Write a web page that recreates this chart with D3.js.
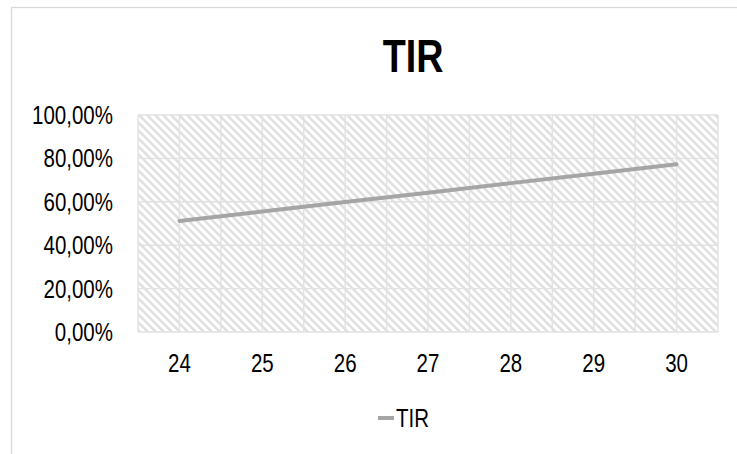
<!DOCTYPE html>
<html><head><meta charset="utf-8">
<script src="https://cdn.jsdelivr.net/npm/d3@7"></script>
<style>
html,body{margin:0;padding:0;background:#fff;overflow:hidden}
text{font-family:"Liberation Sans Narrow","Arial Narrow","Liberation Sans",Arial,sans-serif}
</style></head>
<body>
<svg id="chart" width="737" height="454"></svg>
<script>
const categories = ["24","25","26","27","28","29","30"];
const tirValues = [0.512, 0.555, 0.599, 0.642, 0.686, 0.729, 0.773];
const yTicks = [0, 0.2, 0.4, 0.6, 0.8, 1.0];
const seriesName = "TIR";
const titleText = "TIR";

const svg = d3.select("#chart");
const W = 737, H = 454;
const plot = {left:138, right:718, top:115, bottom:332};
const SX = 0.82; // narrow-font emulation

function label(parent, px, py, txt, opts) {
  const g = parent.append("g").attr("transform", `translate(${px},${py}) scale(${SX},1)`);
  const t = g.append("text").attr("x",0).attr("y",0)
    .attr("font-size", opts.size).attr("fill","#000")
    .attr("text-anchor", opts.anchor || "start")
    .text(txt);
  if (opts.bold) t.attr("font-weight","bold");
  if (opts.dy) t.attr("dy", opts.dy);
  return t;
}

// outer frame
svg.append("rect").attr("x",11.5).attr("y",7.5).attr("width",W+20).attr("height",H+20)
  .attr("fill","#fff").attr("stroke","#d9d9d9").attr("stroke-width",1.3);

// hatch pattern
const defs = svg.append("defs");
const pat = defs.append("pattern").attr("id","hatch").attr("patternUnits","userSpaceOnUse")
  .attr("width",8).attr("height",8);
pat.append("rect").attr("width",8).attr("height",8).attr("fill","#fff");
pat.append("path").attr("d","M-2,-2 L10,10 M-2,6 L2,10 M6,-2 L10,2")
  .attr("stroke","#e0e0e0").attr("stroke-width",2.5);

const x = d3.scaleBand().domain(categories).range([plot.left, plot.right]);
const y = d3.scaleLinear().domain([0,1]).range([plot.bottom, plot.top]);

svg.append("rect").attr("x",plot.left).attr("y",plot.top)
  .attr("width",plot.right-plot.left).attr("height",plot.bottom-plot.top)
  .attr("fill","url(#hatch)");

// gridlines
const g = svg.append("g").attr("stroke","#e2e2e2").attr("stroke-width",1.4);
yTicks.forEach(t => {
  g.append("line").attr("x1",plot.left).attr("x2",plot.right).attr("y1",y(t)).attr("y2",y(t));
});
const vx = [];
categories.forEach(c => { vx.push(x(c)); vx.push(x(c)+x.bandwidth()/2); });
vx.push(plot.right);
vx.forEach(v => {
  g.append("line").attr("x1",v).attr("x2",v).attr("y1",plot.top).attr("y2",plot.bottom);
});

// y axis labels
const fmt = v => (v*100).toFixed(2).replace(".",",") + "%";
const ya = svg.append("g");
yTicks.forEach(t => label(ya, 113, y(t), fmt(t), {size:25, anchor:"end", dy:"0.36em"}));

// x axis labels
const xa = svg.append("g");
categories.forEach(c => label(xa, x(c)+x.bandwidth()/2, 372, c, {size:25, anchor:"middle"}));

// line
const line = d3.line().x((d,i)=>x(categories[i])+x.bandwidth()/2).y(d=>y(d));
svg.append("path").datum(tirValues).attr("d",line).attr("fill","none")
  .attr("stroke","#a5a5a5").attr("stroke-width",4).attr("stroke-linecap","round");

// title
label(svg, 413, 72, titleText, {size:46, anchor:"middle", bold:true});

// legend
svg.append("line").attr("x1",378).attr("x2",394).attr("y1",418).attr("y2",418)
  .attr("stroke","#a5a5a5").attr("stroke-width",4);
label(svg, 396, 427, seriesName, {size:25});
</script>
</body></html>
